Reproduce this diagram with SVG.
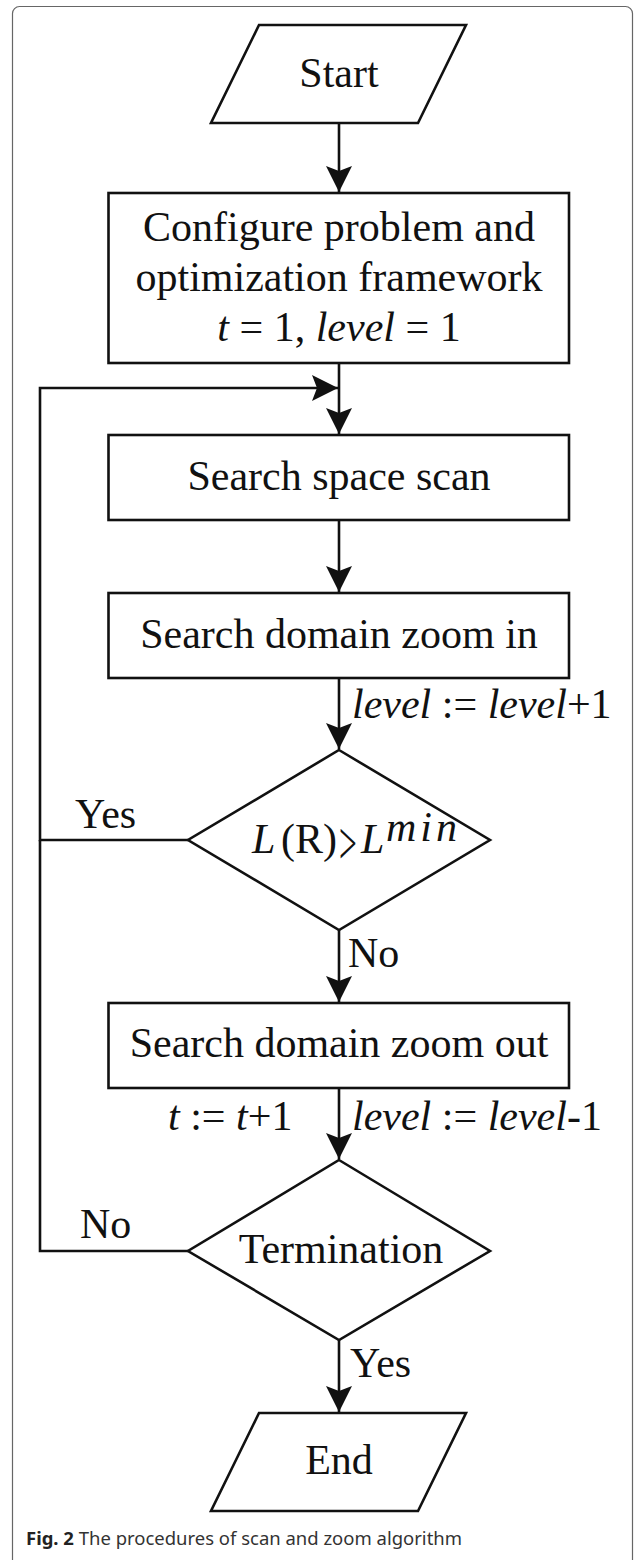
<svg xmlns="http://www.w3.org/2000/svg" width="635" height="1560" viewBox="0 0 635 1560">
<style>
.s{fill:#fff;stroke:#111;stroke-width:2.6}
.c{fill:none;stroke:#111;stroke-width:2.6}
.t{font-family:"Liberation Serif","Times New Roman",serif;font-size:42px;fill:#111}
.m{text-anchor:middle}
.i{font-style:italic}
.cap{font-family:"Noto Sans","Open Sans",sans-serif;font-size:18px;fill:#333}
</style>
<defs>
<marker id="ah" markerUnits="userSpaceOnUse" markerWidth="30" markerHeight="30" refX="26" refY="13" orient="auto">
<path d="M26,13 L0,0 L5,13 L0,26 Z" fill="#111"/>
</marker>
</defs>
<rect x="12.5" y="6.5" width="620" height="1600" rx="7" fill="#fff" stroke="#666" stroke-width="1.2"/>
<g id="connectors">
<path class="c" d="M339,123 V192" marker-end="url(#ah)"/>
<path class="c" d="M339,363 V434" marker-end="url(#ah)"/>
<path class="c" d="M339,520 V592" marker-end="url(#ah)"/>
<path class="c" d="M339,678 V749" marker-end="url(#ah)"/>
<path class="c" d="M339,930 V1002" marker-end="url(#ah)"/>
<path class="c" d="M339,1088 V1159" marker-end="url(#ah)"/>
<path class="c" d="M339,1340 V1412" marker-end="url(#ah)"/>
<path class="c" d="M188,840 H40 V388 H338" marker-end="url(#ah)"/>
<path class="c" d="M188,1251 H40 V840"/>
<text class="t i" x="352" y="718">level<tspan font-style="normal"> := </tspan>level<tspan font-style="normal">+1</tspan></text>
<text class="t" x="75" y="828">Yes</text>
<text class="t" x="348" y="967">No</text>
<text class="t" x="168" y="1130"><tspan font-style="italic">t</tspan> := <tspan font-style="italic">t</tspan>+1</text>
<text class="t i" x="352" y="1130">level<tspan font-style="normal"> := </tspan>level<tspan font-style="normal">-1</tspan></text>
<text class="t" x="80" y="1238">No</text>
<text class="t" x="350" y="1377">Yes</text>
</g>
<g id="start">
<polygon class="s" points="259,25 466,25 418,123 211,123"/>
<text class="t m" x="339" y="87">Start</text>
</g>
<g id="configure">
<rect class="s" x="108.5" y="193" width="460.5" height="170"/>
<text class="t m" x="339" y="241">Configure problem and</text>
<text class="t m" x="339" y="291">optimization framework</text>
<text class="t m" x="339" y="341"><tspan font-style="italic">t</tspan> = 1, <tspan font-style="italic">level</tspan> = 1</text>
</g>
<g id="scan">
<rect class="s" x="108.5" y="435" width="460.5" height="85"/>
<text class="t m" x="339" y="490">Search space scan</text>
</g>
<g id="zoomin">
<rect class="s" x="108.5" y="593" width="460.5" height="85"/>
<text class="t m" x="339" y="648">Search domain zoom in</text>
</g>
<g id="decision1">
<polygon class="s" points="339,750 490,840 339,930 188,840"/>
<text class="t" y="853" font-size="44"><tspan x="252" font-style="italic">L</tspan><tspan x="281">(R)</tspan><tspan x="361" font-style="italic">L</tspan></text>
<text class="t" transform="translate(339,864) scale(0.75,1.45)" font-size="34">&gt;</text>
<text class="t i" x="386" y="841" font-size="22" letter-spacing="4">min</text>
</g>
<g id="zoomout">
<rect class="s" x="108.5" y="1003" width="460.5" height="85"/>
<text class="t m" x="339" y="1057">Search domain zoom out</text>
</g>
<g id="decision2">
<polygon class="s" points="339,1160 490,1251 339,1340 188,1251"/>
<text class="t m" x="341" y="1263">Termination</text>
</g>
<g id="end">
<polygon class="s" points="259,1413 466,1413 418,1511 211,1511"/>
<text class="t m" x="339" y="1474">End</text>
</g>
<g id="caption">
<text class="cap" x="26" y="1545" textLength="436" lengthAdjust="spacingAndGlyphs"><tspan font-weight="bold" fill="#222">Fig. 2</tspan> The procedures of scan and zoom algorithm</text>
</g>
</svg>
